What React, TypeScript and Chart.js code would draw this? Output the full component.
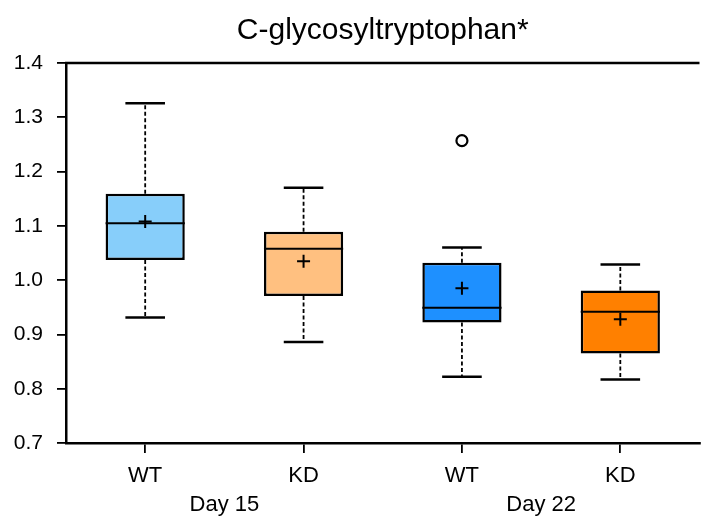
import React, { useEffect, useRef } from "react";
import { Chart, registerables } from "chart.js";

Chart.register(...registerables);

const title = "C-glycosyltryptophan*";
const categories = ["WT", "KD", "WT", "KD"];
const groups = ["Day 15", "Day 22"];
const groupSpans = [[0, 1], [2, 3]];
const whiskerLow = [0.931, 0.886, 0.822, 0.817];
const q1 = [1.037, 0.971, 0.922, 0.865];
const median = [1.105, 1.058, 0.949, 0.942];
const q3 = [1.159, 1.089, 1.032, 0.981];
const whiskerHigh = [1.326, 1.170, 1.060, 1.029];
const means = [1.108, 1.035, 0.985, 0.928];
const outliers = [null, null, 1.257, null];
const boxColors = ["#87CEFA", "#FFC080", "#1E90FF", "#FF8000"];
const yTicks = [0.7, 0.8, 0.9, 1.0, 1.1, 1.2, 1.3, 1.4];

const FONT = "'Liberation Sans', Arial, sans-serif";

const boxPlugin = {
  id: "boxExtras",
  beforeDatasetsDraw(chart: any) {
    const ctx = chart.ctx;
    const xs = chart.scales.x;
    const ys = chart.scales.y;
    const meta = chart.getDatasetMeta(0);
    ctx.save();
    categories.forEach((_, i) => {
      const bar = meta.data[i];
      const x = xs.getPixelForValue(i);
      const half = (bar ? bar.width : 80) / 4;
      const pairs = [
        [q3[i], whiskerHigh[i]],
        [q1[i], whiskerLow[i]],
      ];
      pairs.forEach(([from, to]) => {
        const y0 = ys.getPixelForValue(from);
        const y1 = ys.getPixelForValue(to);
        ctx.strokeStyle = "#000";
        ctx.lineWidth = 1.8;
        ctx.setLineDash([4, 2.5]);
        ctx.beginPath();
        ctx.moveTo(x, y0);
        ctx.lineTo(x, y1);
        ctx.stroke();
        ctx.setLineDash([]);
        ctx.lineWidth = 2.5;
        ctx.beginPath();
        ctx.moveTo(x - half, y1);
        ctx.lineTo(x + half, y1);
        ctx.stroke();
      });
    });
    ctx.restore();
  },
  afterDatasetsDraw(chart: any) {
    const ctx = chart.ctx;
    const xs = chart.scales.x;
    const ys = chart.scales.y;
    const meta = chart.getDatasetMeta(0);
    ctx.save();
    ctx.strokeStyle = "#000";
    ctx.lineWidth = 2;
    categories.forEach((_, i) => {
      const bar = meta.data[i];
      const x = xs.getPixelForValue(i);
      const hw = (bar ? bar.width : 80) / 2;
      const y = ys.getPixelForValue(median[i]);
      ctx.beginPath();
      ctx.moveTo(x - hw, y);
      ctx.lineTo(x + hw, y);
      ctx.stroke();
    });
    ctx.restore();
  },
  afterDraw(chart: any) {
    const ctx = chart.ctx;
    const area = chart.chartArea;
    const xs = chart.scales.x;
    ctx.save();
    // top frame line
    ctx.strokeStyle = "#000";
    ctx.lineWidth = 2.5;
    ctx.beginPath();
    ctx.moveTo(area.left - 1, area.top);
    ctx.lineTo(area.right, area.top);
    ctx.stroke();
    // title
    ctx.fillStyle = "#000";
    ctx.font = `30px ${FONT}`;
    ctx.textAlign = "center";
    ctx.textBaseline = "alphabetic";
    ctx.fillText(title, (area.left + area.right) / 2, 39);
    // group labels
    ctx.font = `22px ${FONT}`;
    groups.forEach((g, k) => {
      const [a, b] = groupSpans[k];
      const x = (xs.getPixelForValue(a) + xs.getPixelForValue(b)) / 2;
      ctx.fillText(g, x, 511);
    });
    ctx.restore();
  },
};

export default function App() {
  const ref = useRef<HTMLCanvasElement | null>(null);
  useEffect(() => {
    if (!ref.current) return;
    Chart.defaults.font.family = FONT;
    const chart = new Chart(ref.current, {
      type: "bar",
      data: {
        labels: categories,
        datasets: [
          {
            type: "bar",
            data: q1.map((v, i) => [v, q3[i]]) as any,
            backgroundColor: boxColors,
            borderColor: "#000",
            borderWidth: 2.5,
            borderSkipped: false,
            barPercentage: 0.5,
            categoryPercentage: 1,
            order: 3,
          } as any,
          {
            type: "line",
            data: means,
            showLine: false,
            pointStyle: "cross",
            pointRadius: 6.5,
            pointBorderWidth: 2,
            pointBorderColor: "#000",
            pointBackgroundColor: "#000",
            order: 1,
          } as any,
          {
            type: "line",
            data: outliers,
            showLine: false,
            pointStyle: "circle",
            pointRadius: 5.5,
            pointBorderWidth: 2.2,
            pointBorderColor: "#000",
            pointBackgroundColor: "#fff",
            order: 1,
          } as any,
        ],
      },
      options: {
        animation: false,
        responsive: false,
        layout: { padding: { top: 63, left: 0, right: -2, bottom: 0 } },
        plugins: {
          legend: { display: false },
          tooltip: { enabled: false },
          title: { display: false },
        },
        scales: {
          x: {
            type: "category",
            offset: true,
            grid: {
              display: true,
              drawOnChartArea: false,
              drawTicks: true,
              tickLength: 10,
              offset: false,
              color: "#000",
              lineWidth: 1.8,
            },
            border: { display: true, color: "#000", width: 2.5 },
            ticks: {
              color: "#000",
              font: { size: 22, family: FONT },
              padding: 10,
              maxRotation: 0,
              autoSkip: false,
            },
            afterFit(scale: any) {
              scale.height = 75;
            },
          },
          y: {
            type: "linear",
            min: 0.7,
            max: 1.4,
            grid: {
              display: true,
              drawOnChartArea: false,
              drawTicks: true,
              tickLength: 9,
              color: "#000",
              lineWidth: 1.8,
            },
            border: { display: true, color: "#000", width: 2.5 },
            ticks: {
              color: "#000",
              font: { size: 21, family: FONT },
              padding: 14,
              callback: (v: any) => Number(v).toFixed(1),
            },
            afterBuildTicks(scale: any) {
              scale.ticks = yTicks.map((v) => ({ value: v }));
            },
            afterFit(scale: any) {
              scale.width = 66;
            },
          },
        },
      } as any,
      plugins: [boxPlugin],
    });
    return () => chart.destroy();
  }, []);
  return (
    <div style={{ position: "absolute", left: 0, top: 0, width: 708, height: 518, background: "#fff" }}>
      <canvas ref={ref} width={708} height={518} style={{ display: "block" }} />
    </div>
  );
}
